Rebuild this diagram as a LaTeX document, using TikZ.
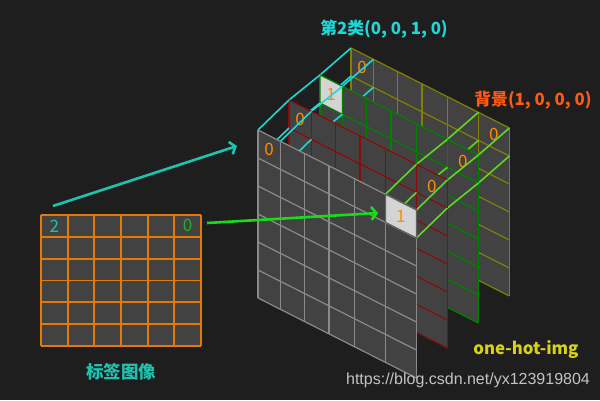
\documentclass[tikz,border=0pt]{standalone}
\usepackage{fontspec}
\setmainfont{Noto Sans CJK SC}
\newfontfamily\urlfont{Liberation Sans}
\usetikzlibrary{calc,arrows.meta}

\definecolor{bg}{RGB}{30,30,30}
\definecolor{cellfill}{RGB}{66,66,66}
\definecolor{frontline}{RGB}{138,138,138}
\definecolor{redline}{RGB}{140,10,10}
\definecolor{greenline}{RGB}{0,130,0}
\definecolor{yellowline}{RGB}{128,128,0}
\definecolor{cyanline}{RGB}{30,215,215}
\definecolor{limeline}{RGB}{95,215,35}
\definecolor{labelgrid}{RGB}{230,120,10}
\definecolor{digit}{RGB}{255,140,0}
\definecolor{hicell}{RGB}{212,212,212}
\definecolor{arrowteal}{RGB}{30,195,175}
\definecolor{arrowgreen}{RGB}{25,220,25}

\tikzset{
  gridline/.style={line width=1.2pt},
  prismline/.style={line width=1.6pt},
  digitlabel/.style={text=digit, font=\fontsize{17}{17}\selectfont, inner sep=0pt},
  title/.style={font=\bfseries\fontsize{16.8}{16.8}\selectfont, inner sep=0pt},
  bigarrow/.style={line width=2.6pt, -{Straight Barb[length=5pt,width=13pt]}},
}

% one 6x6 plane of the one-hot stack, origin = top-left corner
\newcommand{\layerplane}[2]{%
  \fill[cellfill] (#1) -- ++(158.4,80) -- ++(0,168) -- ++(-158.4,-80) -- cycle;
  \foreach \c in {0,22.4,46.7,71,96.7,127.4,158.4}
    \draw[gridline,#2] ($(#1)+(\c,0.505*\c)$) -- ++(0,168);
  \foreach \r in {0,...,6}
    \draw[gridline,#2] ($(#1)+(0,28*\r)$) -- ++(158.4,80);
}
% top-row cell between columns #2 and #3
\newcommand{\hilite}[4]{%
  \filldraw[hicell, draw=#4, gridline] ($(#1)+(#2,0.505*#2)$) -- ($(#1)+(#3,0.505*#3)$)
    -- ++(0,28) -- ($(#1)+(#2,0.505*#2+28)$) -- cycle;
}
\newcommand{\celldigit}[5]{%
  \node[digitlabel] (#1) at ($(#2)+({(#3+#4)/2},{0.505*(#3+#4)/2+14})$) {#5};
}
% the four corner lines of one pixel column, from layer #1 back to layer #2
\newcommand{\prism}[5]{%
  \draw[prismline,#5] ($(#1)+(#3,0.505*#3)$) -- ($(#2)+(#3,0.505*#3)$);
  \draw[prismline,#5] ($(#1)+(#4,0.505*#4)$) -- ($(#2)+(#4,0.505*#4)$);
  \draw[prismline,#5] ($(#1)+(#4,0.505*#4+28)$) -- ($(#2)+(#4,0.505*#4+28)$);
  \draw[prismline,#5] ($(#1)+(#3,0.505*#3+28)$) -- ($(#2)+(#3,0.505*#3+28)$);
}

\begin{document}
\begin{tikzpicture}[x=1pt,y=-1pt]
\useasboundingbox (0,0) rectangle (600,400);
\fill[bg] (0,0) rectangle (600,400);

\coordinate (Ly) at (351,48);
\coordinate (Lg) at (320,75);
\coordinate (Lr) at (289,100);
\coordinate (Lf) at (258,130);

% back plane (yellow)
\layerplane{Ly}{yellowline}
\celldigit{y0}{Ly}{0}{22.4}{0}
\celldigit{y5}{Ly}{127.4}{158.4}{0}
\prism{Lg}{Ly}{0}{22.4}{cyanline}
\prism{Lg}{Ly}{127.4}{158.4}{limeline}

% green plane
\layerplane{Lg}{greenline}
\hilite{Lg}{0}{22.4}{greenline}
\celldigit{g0}{Lg}{0}{22.4}{1}
\celldigit{g5}{Lg}{127.4}{158.4}{0}
\prism{Lr}{Lg}{0}{22.4}{cyanline}
\prism{Lr}{Lg}{127.4}{158.4}{limeline}

% red plane
\layerplane{Lr}{redline}
\celldigit{r0}{Lr}{0}{22.4}{0}
\celldigit{r5}{Lr}{127.4}{158.4}{0}
\prism{Lf}{Lr}{0}{22.4}{cyanline}
\prism{Lf}{Lr}{127.4}{158.4}{limeline}

% front plane (gray)
\layerplane{Lf}{frontline}
\hilite{Lf}{127.4}{158.4}{frontline!70!black}
\celldigit{f0}{Lf}{0}{22.4}{0}
\celldigit{f5}{Lf}{127.4}{158.4}{1}

% label image
\fill[cellfill] (41,215) rectangle (201,346);
\foreach \i in {0,...,6} {
  \draw[labelgrid, line width=1.8pt] (41+26.67*\i,215) -- ++(0,131);
  \draw[labelgrid, line width=1.8pt] (41,215+21.83*\i) -- ++(160,0);
}
\node[digitlabel, text=arrowteal] (lab2) at (54.3,225.9) {2};
\node[digitlabel, text={rgb,255:red,30;green,180;blue,40}] (lab0) at (187.7,225.9) {0};

% arrows
\coordinate (tealfrom) at (53,206);
\coordinate (tealto) at (237,146);
\coordinate (greenfrom) at (207,223);
\coordinate (greento) at (378,213);
\draw[bigarrow, arrowteal] (tealfrom) -- (tealto);
\draw[bigarrow, arrowgreen] (greenfrom) -- (greento);

% titles
\node[title, text=cyanline] (cls2) at (384,29) {第2类(0, 0, 1, 0)};
\node[title, text={rgb,255:red,255;green,90;blue,20}] (bgcls) at (533,100) {背景(1, 0, 0, 0)};
\node[title, text=arrowteal, font=\bfseries\fontsize{17.5}{17.5}\selectfont] (labimg) at (121,372) {标签图像};
\node[title, text={rgb,255:red,215;green,210;blue,25}] (onehot) at (526,350) {one-hot-img};
\node[inner sep=0pt, text={rgb,255:red,195;green,195;blue,195}, font=\urlfont\fontsize{16}{16}\selectfont] (url) at (468,380) {https://blog.csdn.net/yx123919804};
\end{tikzpicture}
\end{document}
